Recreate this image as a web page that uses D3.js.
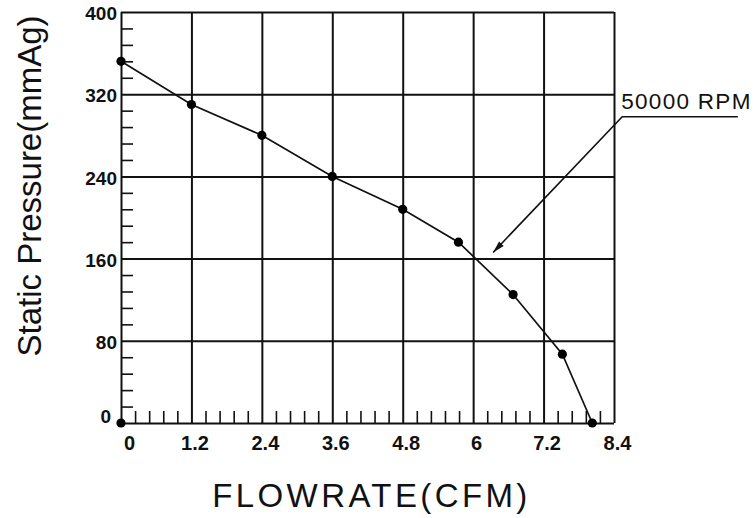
<!DOCTYPE html>
<html>
<head>
<meta charset="utf-8">
<script src="https://cdn.jsdelivr.net/npm/d3@7"></script>
<style>
  html, body { margin: 0; padding: 0; background: #fff; }
  svg { display: block; }
</style>
</head>
<body>
<svg id="chart" width="756" height="518"></svg>
<script>
// ---- data ----
const flowTicks = [0, 1.2, 2.4, 3.6, 4.8, 6, 7.2, 8.4];
const flowTickLabels = ["0", "1.2", "2.4", "3.6", "4.8", "6", "7.2", "8.4"];
const pressureTicks = [0, 80, 160, 240, 320, 400];
const pressureTickLabels = ["0", "80", "160", "240", "320", "400"];
const flowMinorStep = 0.24;
const pressureMinorStep = 16;
const flowrate = [0, 1.2, 2.4, 3.6, 4.8, 5.75, 6.68, 7.52, 8.03];
const pressure = [352, 310, 280, 240, 208, 176, 125, 67, 0];
const extraPointFlow = [0];
const extraPointPressure = [0];
const seriesLabel = "50000 RPM";
const annotationTip = [6.34, 166];
const annotationElbow = [8.54, 298];
const annotationEnd = [10.51, 298];
const xTitle = "FLOWRATE(CFM)";
const yTitle = "Static Pressure(mmAg)";

// ---- layout ----
const svg = d3.select("#chart");
const plotLeft = 121, plotRight = 614, plotTop = 12, plotBottom = 423;
const x = d3.scaleLinear().domain([0, 8.4]).range([plotLeft, plotRight]);
const y = d3.scaleLinear().domain([0, 400]).range([plotBottom, plotTop]);

svg.append("rect").attr("width", 756).attr("height", 518).attr("fill", "#fff");

// minor ticks (x: upward from bottom, y: rightward from left)
const xMinor = d3.range(0, 8.4 + 1e-9, flowMinorStep).filter(v => Math.abs(v / 1.2 - Math.round(v / 1.2)) > 1e-6);
const yMinor = d3.range(0, 400 + 1e-9, pressureMinorStep).filter(v => v % 80 !== 0);

svg.append("g").attr("transform", `translate(0,${plotBottom})`)
  .call(d3.axisBottom(x).tickValues(xMinor).tickSize(-12).tickFormat(""))
  .call(g => g.select(".domain").remove())
  .call(g => g.selectAll("line").attr("stroke", "#111").attr("stroke-width", 1.6));

svg.append("g").attr("transform", `translate(${plotLeft},0)`)
  .call(d3.axisLeft(y).tickValues(yMinor).tickSize(-12).tickFormat(""))
  .call(g => g.select(".domain").remove())
  .call(g => g.selectAll("line").attr("stroke", "#111").attr("stroke-width", 1.6));

// major grid
svg.append("g").attr("transform", `translate(0,${plotBottom})`)
  .call(d3.axisBottom(x).tickValues(flowTicks).tickSize(-(plotBottom - plotTop)).tickFormat(""))
  .call(g => g.select(".domain").remove())
  .call(g => g.selectAll("line").attr("stroke", "#111").attr("stroke-width", 2));

svg.append("g").attr("transform", `translate(${plotLeft},0)`)
  .call(d3.axisLeft(y).tickValues(pressureTicks).tickSize(-(plotRight - plotLeft)).tickFormat(""))
  .call(g => g.select(".domain").remove())
  .call(g => g.selectAll("line").attr("stroke", "#111").attr("stroke-width", 2));

// tick labels
const labelFont = "'Liberation Sans Narrow', 'Arial Narrow', sans-serif";
const xl = svg.append("g").attr("transform", `translate(0,${plotBottom})`)
  .call(d3.axisBottom(x).tickValues(flowTicks).tickSize(0).tickPadding(13)
    .tickFormat((d, i) => flowTickLabels[i]))
  .call(g => g.select(".domain").remove());
xl.selectAll("text")
  .attr("font-family", labelFont).attr("font-size", 20).attr("font-weight", "bold").attr("fill", "#111")
  .attr("dx", (d, i) => i === 0 ? 8 : 3);

const yl = svg.append("g").attr("transform", `translate(${plotLeft},0)`)
  .call(d3.axisLeft(y).tickValues(pressureTicks).tickSize(0).tickPadding(4)
    .tickFormat((d, i) => pressureTickLabels[i]))
  .call(g => g.select(".domain").remove());
yl.selectAll("text")
  .attr("font-family", labelFont).attr("font-size", 19).attr("font-weight", "bold").attr("fill", "#111")
  .attr("dx", (d, i) => i === 0 ? -6 : 0)
  .attr("dy", (d, i) => i === 0 ? "-0.05em" : "0.4em");

// curve
const pts = flowrate.map((f, i) => [f, pressure[i]]);
svg.append("path")
  .datum(pts)
  .attr("fill", "none").attr("stroke", "#111").attr("stroke-width", 1.7)
  .attr("d", d3.line().x(d => x(d[0])).y(d => y(d[1])));

svg.append("g").selectAll("circle")
  .data(pts.concat(extraPointFlow.map((f, i) => [f, extraPointPressure[i]])))
  .join("circle")
  .attr("cx", d => x(d[0])).attr("cy", d => y(d[1])).attr("r", 4.6)
  .attr("fill", "#000");

// annotation
const tip = [x(annotationTip[0]), y(annotationTip[1])];
const elbow = [x(annotationElbow[0]), y(annotationElbow[1])];
const endP = [x(annotationEnd[0]), y(annotationEnd[1])];
svg.append("path")
  .attr("d", `M${endP[0]},${endP[1]}L${elbow[0]},${elbow[1]}L${tip[0]},${tip[1]}`)
  .attr("fill", "none").attr("stroke", "#111").attr("stroke-width", 1.6);
const ang = Math.atan2(elbow[1] - tip[1], elbow[0] - tip[0]);
const aLen = 12, aW = 3.2;
const bx = tip[0] + aLen * Math.cos(ang), by = tip[1] + aLen * Math.sin(ang);
const px = -Math.sin(ang) * aW, py = Math.cos(ang) * aW;
svg.append("path")
  .attr("d", `M${tip[0]},${tip[1]}L${bx + px},${by + py}L${bx - px},${by - py}Z`)
  .attr("fill", "#111");
svg.append("text")
  .attr("x", elbow[0] - 1).attr("y", elbow[1] - 8)
  .attr("font-family", "'Liberation Sans', Arial, sans-serif")
  .attr("font-size", 22.5).attr("letter-spacing", 1.3).attr("fill", "#111")
  .text(seriesLabel);

// axis titles
svg.append("text")
  .attr("x", (plotLeft + plotRight) / 2 + 4).attr("y", 507)
  .attr("text-anchor", "middle")
  .attr("font-family", "'Liberation Sans', Arial, sans-serif")
  .attr("font-size", 33).attr("letter-spacing", 3.4).attr("fill", "#111")
  .text(xTitle);

svg.append("text")
  .attr("transform", `translate(41,186) rotate(-90)`)
  .attr("text-anchor", "middle")
  .attr("font-family", "'Liberation Sans', Arial, sans-serif")
  .attr("font-size", 33).attr("fill", "#111")
  .text(yTitle);
</script>
</body>
</html>
